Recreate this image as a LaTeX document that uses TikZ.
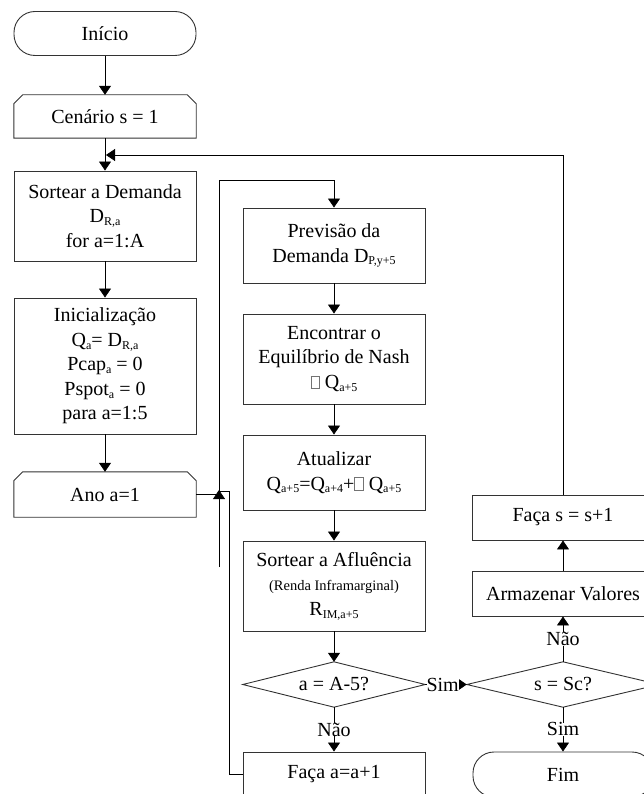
\documentclass[tikz,border=0pt]{standalone}
\usepackage{fontspec}
\setmainfont{Liberation Serif}
\usetikzlibrary{arrows.meta}

% lowered small index, as in D_{R,a}
\newcommand\sub[1]{\raisebox{-0.3ex}{\fontsize{12}{12}\selectfont #1}}
% empty glyph box printed in place of the increment sign
\newcommand\nullglyph{{\color{black!55}\fboxsep=0pt\fboxrule=0.5pt\fbox{\rule{0pt}{0.62em}\hspace{0.42em}}}}

\tikzset{
  txt/.style={inner sep=0pt, align=center, minimum width=182pt,
              font=\fontsize{20}{24.5}\selectfont},
  box/.style={txt, draw=black!80, line width=0.9pt},
  term/.style={box, rounded corners=21pt, minimum height=44pt},
  plain/.style={txt, draw=none},
  outline/.style={draw=black!80, line width=0.9pt},
  wire/.style={line width=0.8pt, black},
  flow/.style={wire, -{Triangle[length=9pt,width=12pt]}},
  lbl/.style={fill=white, inner sep=0pt, font=\fontsize{20}{24}\selectfont}
}

% loop-limit outline: rectangle with the two upper corners cut off
\newcommand\chamferbox[1]{%
  \draw[outline] (#1.south west) -- ([yshift=-9pt]#1.north west)
    -- ([xshift=9pt]#1.north west) -- ([xshift=-9pt]#1.north east)
    -- ([yshift=-9pt]#1.north east) -- (#1.south east) -- cycle;}
% decision outline drawn on the node's rectangle anchors
\newcommand\decision[1]{%
  \draw[outline] (#1.west) -- (#1.north) -- (#1.east) -- (#1.south) -- cycle;}

\begin{document}
\begin{tikzpicture}[x=1pt,y=-1pt]
\useasboundingbox (0,0) rectangle (644,794);
\clip (0,0) rectangle (644,794);

% ---- left column: scenario set-up
\node[term] (inicio) at (105,33.5) {Início};
\node[plain, minimum height=43pt] (cenario) at (105,116.5) {Cenário s = 1};
\chamferbox{cenario}
\node[box, minimum height=90pt] (sortear) at (105,216)
  {Sortear a Demanda\\D\sub{R,a}\\for a=1:A};
\node[box, minimum height=136pt] (inic) at (105,366)
  {Inicialização\\Q\sub{a}= D\sub{R,a}\\Pcap\sub{a} = 0\\Pspot\sub{a} = 0\\para a=1:5};
\node[plain, minimum height=45pt] (ano) at (105,494.5) {Ano a=1};
\chamferbox{ano}

% ---- middle column: yearly loop
\node[box, minimum height=75pt] (prev) at (334,245.5)
  {Previsão da\\Demanda D\sub{P,y+5}};
\node[box, minimum height=90pt] (nash) at (334,359)
  {Encontrar o\\Equilíbrio de Nash\\\nullglyph\ Q\sub{a+5}};
\node[box, minimum height=75pt] (atual) at (334,472.5)
  {Atualizar\\Q\sub{a+5}=Q\sub{a+4}+\nullglyph\ Q\sub{a+5}};
\node[box, minimum height=90pt] (aflu) at (334,586)
  {Sortear a Afluência\\{\fontsize{14.5}{18}\selectfont (Renda Inframarginal)}\\R\sub{IM,a+5}};
\node[plain, minimum height=45pt] (dA) at (334,684.5) {a = A-5?};
\decision{dA}
\node[box, minimum height=45pt] (facaA) at (334,774.5) {Faça a=a+1};

% ---- right column: scenario loop
\node[box, minimum height=45pt] (facaS) at (563,517.5) {Faça s = s+1};
\node[box, minimum height=45pt] (arm) at (563,593.5) {Armazenar Valores};
\node[plain, minimum width=192pt, minimum height=45pt] (dS) at (563,684.5) {s = Sc?};
\decision{dS}
\node[term, minimum width=180pt, minimum height=45pt] (fim) at (563,774.5) {Fim};

% ---- junction points of the loop lines
\coordinate (tail)  at (219,567);
\coordinate (ltop)  at (219,180);
\coordinate (jA)    at (219,490);
\coordinate (stepB) at (229,491);
\coordinate (stepA) at (219,491);
\coordinate (mergeS) at (106,155);

% ---- connectors
\draw[flow] (inicio) -- (cenario);
\draw[flow] (cenario) -- (sortear);
\draw[flow] (sortear) -- (inic);
\draw[flow] (inic) -- (ano);
\draw[flow] (ano.east) -| (jA);
\draw[flow] (tail) -- (ltop) -| (prev.north);
\draw[flow] (prev) -- (nash);
\draw[flow] (nash) -- (atual);
\draw[flow] (atual) -- (aflu);
\draw[flow] (aflu) -- (dA.north);
\draw[flow] (dA.south) -- node[lbl]{Não} (facaA.north);
\draw[wire] (facaA.west) -| (stepB) -- (stepA);
\draw[flow] (dA.east) -- node[lbl, pos=0.42]{Sim} (dS.west);
\draw[flow] (dS.north) -- node[lbl]{Não} (arm.south);
\draw[flow] (arm) -- (facaS);
\draw[flow] (facaS.north) |- (mergeS);
\draw[flow] (dS.south) -- node[lbl]{Sim} (fim.north);
\end{tikzpicture}
\end{document}
